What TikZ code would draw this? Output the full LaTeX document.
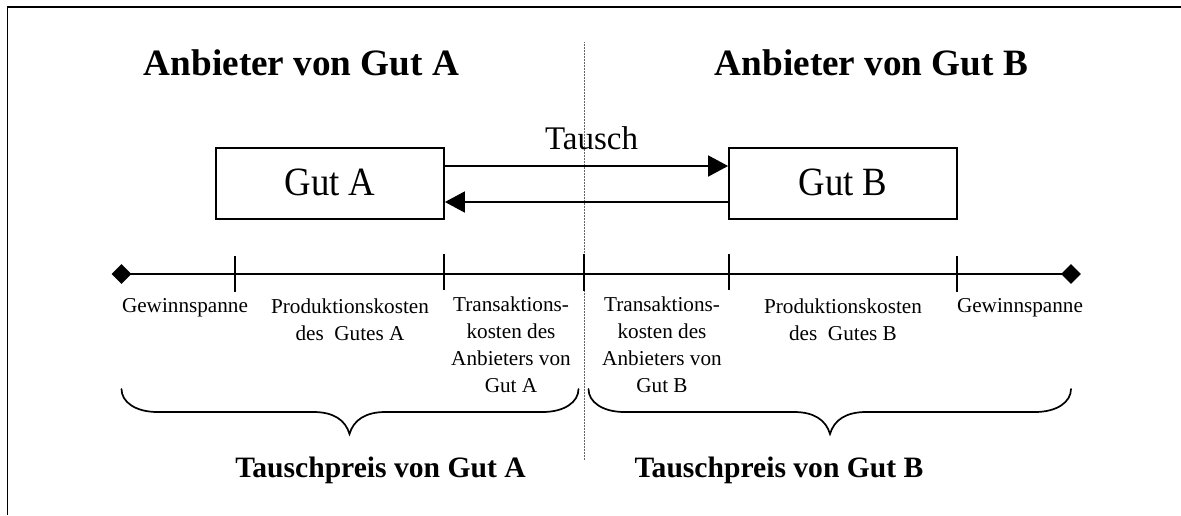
\documentclass[tikz,border=0pt]{standalone}
\usepackage{graphicx}
\usepackage{fontspec}
\setmainfont{Liberation Serif}
\usetikzlibrary{arrows.meta,shapes.geometric}
\newcommand{\tallbox}[1]{\scalebox{1}[1.09]{#1}}
\tikzset{
  x=1pt,y=-1pt,
  heading/.style={font=\fontsize{37.2}{42}\selectfont\bfseries,inner sep=0pt,anchor=base},
  subheading/.style={font=\fontsize{29.6}{34}\selectfont\bfseries,inner sep=0pt,anchor=base},
  goodbox/.style={draw=black,line width=1.8pt,minimum width=228pt,minimum height=71pt,inner sep=0pt},
  goodtext/.style={font=\fontsize{36.8}{42}\selectfont,inner sep=0pt,anchor=base},
  small/.style={font=\fontsize{21.2}{27}\selectfont,align=center,inner sep=0pt,anchor=north},
  flow/.style={line width=1.8pt,-{Triangle[length=20pt,width=21pt]}},
  axisline/.style={line width=1.8pt},
  tick/.style={line width=1.6pt},
  endmark/.style={fill=black,draw=none,shape=diamond,minimum width=20pt,minimum height=20pt,inner sep=0pt},
  divider/.style={line width=.5pt,black!60,densely dotted},
  bracelike/.style={line width=1.7pt,line cap=round}
}
\newcommand{\longbrace}[3]{%
  \draw[bracelike] (#1,389) .. controls (#1,402) and (#1+14,412) .. (#1+36,412)
    -- (#2-36,412) .. controls (#2-16,412) and (#2-4,420) .. (#2,434)
    .. controls (#2+4,420) and (#2+16,412) .. (#2+36,412)
    -- (#3-36,412) .. controls (#3-14,412) and (#3,402) .. (#3,389);}
\begin{document}
\begin{tikzpicture}
\useasboundingbox (0,0) rectangle (1181,515);
\coordinate (tl) at (7.5,7); \coordinate (tr) at (1181,7); \coordinate (bl) at (7.5,515);
\draw[line width=1.8pt] (bl) -- (tl) -- (tr);
\coordinate (d1) at (584,42); \coordinate (d2) at (584,460);
\draw[divider] (d1) -- (d2);
\node[heading] (ha) at (301.5,75.5) {Anbieter von Gut A};
\node[heading] (hb) at (871.5,75.5) {Anbieter von Gut B};
\node[font=\fontsize{33}{38}\selectfont,inner sep=0pt,anchor=base] (ta) at (591.5,149) {Tausch};
\node[goodbox] (ga) at (330,183.5) {};
\node[goodbox] (gb) at (843,183.5) {};
\node[goodtext] (gta) at (330,195) {\tallbox{Gut A}};
\node[goodtext] (gtb) at (843,195) {\tallbox{Gut B}};
\coordinate (a1) at (ga.east |- 0,166); \coordinate (b1) at (gb.west |- 0,166);
\coordinate (a2) at (ga.east |- 0,202); \coordinate (b2) at (gb.west |- 0,202);
\draw[flow] (a1) -- (b1);
\draw[flow] (b2) -- (a2);
% axis
\node[endmark] (ml) at (121.5,274) {};
\node[endmark] (mr) at (1071,274) {};
\draw[axisline] (ml.center) -- (mr.center);
\coordinate (t1a) at (235,256); \coordinate (t1b) at (235,292);
\coordinate (t2a) at (444,254); \coordinate (t2b) at (444,290);
\coordinate (t3a) at (584,254); \coordinate (t3b) at (584,291);
\coordinate (t4a) at (729,254); \coordinate (t4b) at (729,290);
\coordinate (t5a) at (957,256); \coordinate (t5b) at (957,292);
\foreach \t in {1,...,5} {\draw[tick] (t\t a) -- (t\t b);}
% labels
\node[small] (l1) at (185,298.5) {Gewinnspanne};
\node[small] (l2) at (350,298.5) {Produktionskosten\\des\ \ Gutes A};
\node[small] (l3) at (511,296.5) {Transaktions-\\kosten des\\Anbieters von\\Gut A};
\node[small] (l4) at (662,296.5) {Transaktions-\\kosten des\\Anbieters von\\Gut B};
\node[small] (l5) at (843,298.5) {Produktionskosten\\des\ \ Gutes B};
\node[small] (l6) at (1020,298.5) {Gewinnspanne};
\longbrace{121.5}{349.5}{578.5}
\longbrace{588.5}{830}{1071}
\node[subheading] (pa) at (380.5,477) {Tauschpreis von Gut A};
\node[subheading] (pb) at (779,477) {Tauschpreis von Gut B};
\end{tikzpicture}
\end{document}
